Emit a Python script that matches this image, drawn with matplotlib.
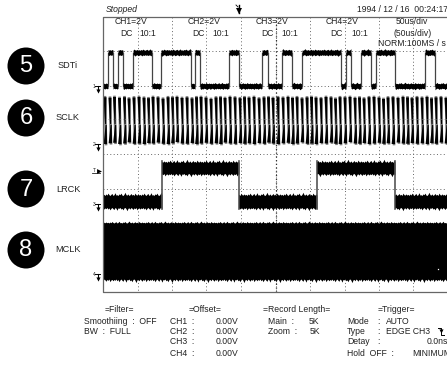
import numpy as np
import matplotlib
matplotlib.use("Agg")
import matplotlib.pyplot as plt

plt.rcParams['font.family'] = ['Liberation Sans', 'DejaVu Sans']

# === Values (in image pixels) ===
channel_names = ["SDTi", "SCLK", "LRCK", "MCLK"]
channel_numbers = ["5", "6", "7", "8"]
channel_y = [66, 118, 189, 250]

# SDTi bit edges, starts low
sdti_edges = [103, 108, 113, 118, 123, 133, 152, 161, 191, 195, 200, 229, 239, 262, 268,
              282, 292, 302, 341, 346, 351, 361, 371, 376, 395, 425, 435, 447]
sdti_high, sdti_low = 52.5, 86

# LRCK edges, starts low
lrck_edges = [103, 162, 239, 317, 395, 447]
lrck_high = (161, 175)
lrck_low = (194, 209)

# SCLK pulse positions
sclk_x = [105, 110, 114.5, 119.5, 124.5, 129, 134, 139, 144, 148.5, 153, 158, 163, 168, 172.5,
          177, 182, 187, 192, 196.5, 201, 206, 211, 216, 220.5, 225, 230, 235, 240, 244.5,
          249, 254, 259, 264, 268.5, 273, 278, 283, 288, 292.5, 297, 302, 307, 311.5, 316,
          321, 326, 331, 335.5, 340, 345, 350, 355, 359.5, 364, 369, 374, 379, 383.5, 388,
          393, 398, 403, 407.5, 412, 417, 422, 427, 431.5, 436, 441, 446]
sclk_top = 97
sclk_bottom = 144

# MCLK envelope
mclk_top = 223
mclk_bottom = 279

# ragged edge of the noisy traces, px away from the band
ripple = [0.5, 1.5, 0, 2, 0.5, 3, 1, 0, 1.5, 2.5, 0, 1, 3.5, 0.5, 1, 0, 2, 1, 3, 0.5,
          0, 1.5, 4, 1, 0.5, 2, 0, 1, 2.5, 0.5, 1.5, 0, 3, 1, 0.5, 2]

grid_x = [137.5, 172, 206, 241, 276, 310, 345, 379, 413]
grid_y = [51, 85.5, 154, 189]

# (x, y, text, italic)
header_text = [
    (106, 10, "Stopped", True), (357, 10, "1994 / 12 / 16  00:24:17", False),
    (115, 22, "CH1=2V", False), (120, 33, "DC", False), (139, 33, "10:1", False),
    (188, 22, "CH2=2V", False), (192, 33, "DC", False), (212, 33, "10:1", False),
    (256, 22, "CH3=2V", False), (261, 33, "DC", False), (281, 33, "10:1", False),
    (326, 22, "CH4=2V", False), (330, 33, "DC", False), (351, 33, "10:1", False),
    (396, 22, "50us/div", False), (393, 33, "(50us/div)", False),
    (378, 44, "NORM:100MS / s", False),
]
footer_text = [
    (105, 310, "=Filter="), (84, 321, "Smoothiing  :  OFF"), (84, 332, "BW  :  FULL"),
    (189, 310, "=Offset="), (170, 321, "CH1  :"), (170, 332, "CH2  :"),
    (170, 342, "CH3  :"), (170, 353, "CH4  :"),
    (216, 321, "0.00V"), (216, 332, "0.00V"), (216, 342, "0.00V"), (216, 353, "0.00V"),
    (263, 310, "=Record Length="), (268, 321, "Main  :"), (309, 321, "5K"),
    (268, 332, "Zoom  :"), (310, 332, "5K"),
    (378, 310, "=Trigger="), (347, 321, "Mode"), (377, 321, ":"), (386, 321, "AUTO"),
    (347, 332, "Type"), (377, 332, ":"), (386, 332, "EDGE CH3"),
    (347, 342, "Detay"), (377, 342, ":"), (427, 342, "0.0ns"),
    (347, 353, "Hold  OFF  :"), (412, 353, "MINIMUM"),
]
# ground markers on the left edge
marker_labels = ["1", "2", "3", "4"]
marker_y = [89, 147, 207, 277]

W, H = 447, 365

fig = plt.figure(figsize=(W / 100, H / 100), dpi=100)
ax = fig.add_axes([0, 0, 1, 1])
ax.set_xlim(0, W)
ax.set_ylim(H, 0)
ax.axis('off')


def ragged(xs, offset_from):
    return np.resize(np.roll(ripple, offset_from), len(xs))


# Grid
ax.vlines(grid_x, 17, 292, color="#666666", lw=0.7, linestyle=(0, (1, 2.5)), zorder=1)
ax.hlines(grid_y, 103, W, color="#666666", lw=0.7, linestyle=(0, (1, 2.5)), zorder=1)
ax.vlines(276, 17, 292, color="#333333", lw=0.9, linestyle=(0, (1, 2)), zorder=1)

# Frame
ax.plot([W, 103, 103, W], [17, 17, 292, 292], color="#666666", lw=0.9, zorder=6)

# SDTi
for i in range(len(sdti_edges) - 1):
    x0, x1 = sdti_edges[i], sdti_edges[i + 1]
    y = sdti_low if i % 2 == 0 else sdti_high
    xs = np.arange(x0, x1 + 1, 1.0)
    r = ragged(xs, i) * 0.4
    ax.fill_between(xs, y - 2.2 - r, y + 2.2 + r[::-1], color="black", lw=0, zorder=3)
    if x1 < W:
        ax.plot([x1, x1], [sdti_high, sdti_low], color="#444444", lw=0.9, zorder=3)

# SCLK
for i, x in enumerate(sclk_x):
    top = sclk_top + ripple[i % len(ripple)] * 0.5
    bottom = sclk_bottom - ripple[(i + 7) % len(ripple)] * 0.5
    ax.plot([x, x + 1], [top, bottom], color="#777777", lw=1.9, zorder=2)
    ax.fill([x - 1.5, x + 1.5, x + 1.0, x + 0.1], [top, top, 124, 124], color="black", lw=0, zorder=3)
    ax.fill([x - 1.4, x + 2.1, x + 1.7, x + 0.6], [bottom, bottom, 125, 125], color="black", lw=0, zorder=3)
ax.hlines(119, 103, W, color="#999999", lw=0.5, linestyle=(0, (1, 2.5)), zorder=4)

# LRCK
for i in range(len(lrck_edges) - 1):
    x0, x1 = lrck_edges[i], lrck_edges[i + 1]
    y0, y1 = lrck_low if i % 2 == 0 else lrck_high
    xs = np.arange(x0, x1 + 1, 1.0)
    ax.fill_between(xs, y0 + 1.5 - ragged(xs, i * 3) * 0.8, y1 - 1.5 + ragged(xs, i * 5 + 2) * 0.8,
                    color="black", lw=0, zorder=3)
    if x1 < W:
        ax.plot([x1, x1], [lrck_high[0], lrck_low[1]], color="#555555", lw=1.2, zorder=3)

# MCLK
xs = np.arange(103, W + 1, 1.0)
ax.fill_between(xs, mclk_top - ragged(xs, 4) * 0.5, mclk_bottom + ragged(xs, 11) * 0.9,
                color="black", lw=0, zorder=3)
ax.plot(438, 269, marker='s', ms=0.9, color="white", mew=0, zorder=4)

# Left edge markers
for label, y in zip(marker_labels, marker_y):
    ax.text(94, y - 2, label, fontsize=3.5, ha='center', va='center', color="#222222")
    ax.plot([95, 100], [y - 3, y - 3], color="black", lw=0.7, zorder=5)
    ax.plot([97.5, 97.5], [y - 3, y + 2], color="black", lw=0.8, zorder=5)
    ax.plot(97.5, y + 2, marker='v', ms=3, color="black", mew=0, zorder=5)
ax.text(94, 170, "T", fontsize=3.5, ha='center', va='center', color="#222222")
ax.plot([92, 100], [173, 173], color="#222222", lw=0.6)
ax.plot(98.5, 171, marker='>', ms=3.5, color="black", mew=0)

# Trigger position marker on top
ax.plot([239, 239], [5, 13], color="black", lw=1)
ax.plot(239, 11, marker='v', ms=4.5, color="black", mew=0)
ax.plot([236, 238], [5, 7], color="black", lw=0.6)

# Falling edge glyph in trigger block
ax.plot([438, 441, 441, 444], [328, 328, 335, 335], color="black", lw=0.7)
ax.plot(441, 331, marker='v', ms=3, color="black", mew=0)

# Channel badges
for name, number, y in zip(channel_names, channel_numbers, channel_y):
    ax.add_patch(plt.Circle((26, y), 18.5, color="black", lw=0))
    ax.text(26, y + 0.5, number, color="white", fontsize=17, ha='center', va='center')
    ax.text(68, y, name, color="#222222", fontsize=6.6, ha='center', va='center')

# Texts
for x, y, text, italic in header_text:
    ax.text(x, y, text, fontsize=6.2, color="#222222", ha='left', va='center',
            style='italic' if italic else 'normal', clip_on=True, zorder=7)
for x, y, text in footer_text:
    ax.text(x, y, text, fontsize=6.2, color="#222222", ha='left', va='center', clip_on=True)

fig.savefig("out.png", dpi=100)
